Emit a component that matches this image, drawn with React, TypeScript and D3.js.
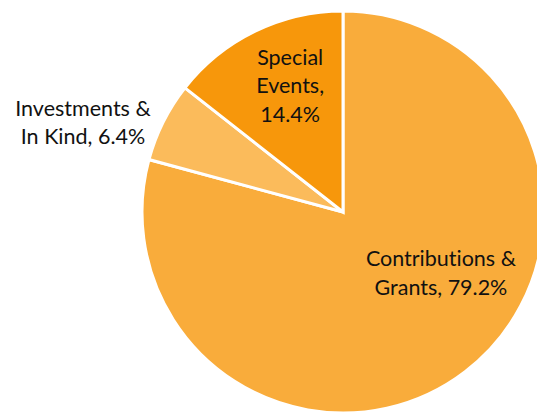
import * as d3 from "d3";

const categories = ["Contributions & Grants", "Investments & In Kind", "Special Events"];
const shares = [79.2, 6.4, 14.4];
const labelLines = [
  ["Contributions &", "Grants, 79.2%"],
  ["Investments &", "In Kind, 6.4%"],
  ["Special", "Events,", "14.4%"],
];
const colors = ["#F9AC3B", "#FBBB5B", "#F7970B"];

// label anchor, as angle (deg from top, clockwise) and distance from centre
const labelAngle = [122, 289, 337.3];
const labelDist = [115.5, 275, 137];

const W = 537;
const H = 412;
const cx = 343;
const cy = 212;
const radius = 201;

export default function App() {
  const pie = d3.pie<number>().sort(null).value(d => d);
  const arcs = pie(shares);
  const arcGen = d3.arc<d3.PieArcDatum<number>>().innerRadius(0).outerRadius(radius);

  return (
    <svg
      width={W}
      height={H}
      style={{ position: "absolute", left: 0, top: 0, background: "#fff", fontVariantLigatures: "none" }}
      fontFamily="Lato, sans-serif"
    >
      <g transform={`translate(${cx},${cy})`}>
        {arcs.map((a, i) => (
          <path key={categories[i]} d={arcGen(a)!} fill={colors[i]} stroke="#fff" strokeWidth={3} strokeLinejoin="miter" />
        ))}
        {arcs.map((a, i) => {
          const ang = (labelAngle[i] * Math.PI) / 180;
          const x = Math.sin(ang) * labelDist[i];
          const y = -Math.cos(ang) * labelDist[i];
          const lines = labelLines[i];
          const lh = 28.5;
          const y0 = y - ((lines.length - 1) * lh) / 2;
          return (
            <text key={`l-${i}`} textAnchor="middle" fontSize={21.5} fill="#111">
              {lines.map((t, j) => (
                <tspan key={j} x={x} y={y0 + j * lh} dy="0.35em">
                  {t}
                </tspan>
              ))}
            </text>
          );
        })}
      </g>
    </svg>
  );
}
